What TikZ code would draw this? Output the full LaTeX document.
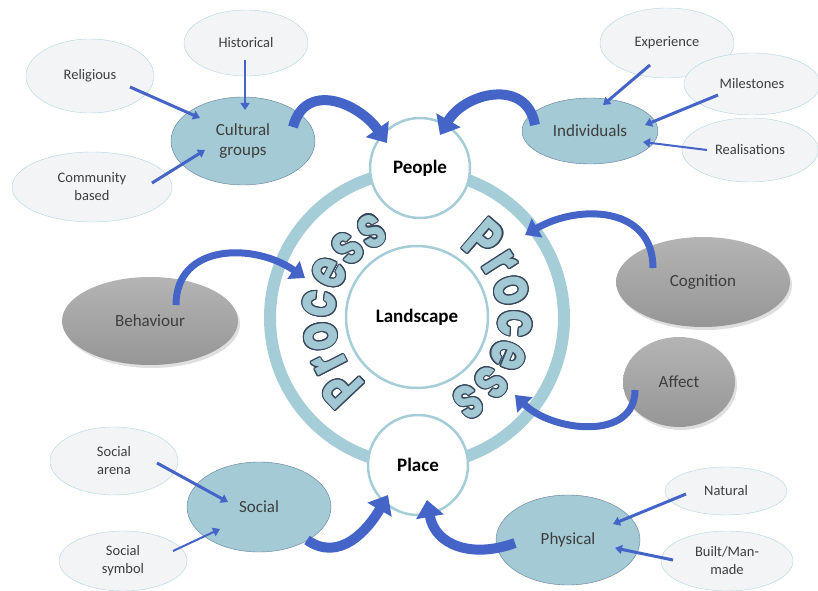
\documentclass[tikz,border=0pt]{standalone}
\usepackage{fontspec}
\setmainfont{Carlito}
\newfontfamily\procfont{Poppins}[FakeStretch=0.76]
\usepackage{tikz}
\usetikzlibrary{shapes.geometric,arrows.meta,decorations.text,shadows}
\usepackage{contour}
\contourlength{1.1pt}
\definecolor{ringblue}{RGB}{165,205,215}
\definecolor{nodeteal}{RGB}{163,202,213}
\definecolor{nodeedge}{RGB}{95,125,155}
\definecolor{palefill}{RGB}{242,244,246}
\definecolor{paleedge}{RGB}{178,212,224}
\definecolor{arrowblue}{RGB}{68,100,200}
\definecolor{procfill}{RGB}{162,200,212}
\definecolor{procline}{RGB}{55,70,90}
\definecolor{labelgray}{RGB}{62,62,62}
\definecolor{moodtop}{RGB}{180,180,180}
\definecolor{moodbot}{RGB}{150,150,150}
\newcommand{\proclet}[1]{\contour{procline}{#1}}

\begin{document}
\begin{tikzpicture}[x=1pt, y=1pt,
	main/.style={ellipse, draw=nodeedge, fill=nodeteal, inner sep=0pt, text=labelgray, font=\fontsize{17}{20}\selectfont, align=center},
	pale/.style={ellipse, draw=paleedge, fill=palefill, inner sep=0pt, text=labelgray, font=\fontsize{14.5}{18}\selectfont, align=center},
	mood/.style={ellipse, top color=moodtop, bottom color=moodbot, drop shadow={opacity=0.25, shadow xshift=2pt, shadow yshift=-3pt}, inner sep=0pt, text=labelgray, font=\fontsize{17}{20}\selectfont},
	hub/.style={circle, draw=ringblue, line width=2.5pt, fill=white, inner sep=0pt, font=\bfseries\fontsize{19}{22}\selectfont},
	feed/.style={draw=arrowblue, line width=3pt, -{Triangle[length=7pt, width=9pt]}},
	bigarrow/.style={draw=arrowblue, line width=10pt, -{Triangle[length=17pt, width=27pt]}},
	midarrow/.style={draw=arrowblue, line width=7pt, -{Triangle[length=14pt, width=21pt]}},
]
	\useasboundingbox (0,0) rectangle (818,590);

	\node[circle, draw=ringblue, line width=12pt, minimum size=294pt, inner sep=0pt] (ring) at (417,272) {};
	\node[hub, minimum size=142pt] (land) at (417,273) {Landscape};

	\path[decorate, decoration={text effects along path, text={Process}, text align=center,
		text effects/.cd, text along path, characters={text=procfill, font=\procfont\bfseries\fontsize{58}{58}\selectfont}, character command=\proclet}]
		([shift={(250:82)}]ring.center) arc[start angle=250, end angle=92, radius=82];
	\path[decorate, decoration={text effects along path, text={Process}, text align=center,
		text effects/.cd, text along path, characters={text=procfill, font=\procfont\bfseries\fontsize{59}{59}\selectfont}, character command=\proclet}]
		([shift={(78:82)}]ring.center) arc[start angle=78, end angle=-86, radius=82];

	\node[hub, minimum size=100pt] (people) at (420,422) {People};
	\node[hub, minimum size=100pt] (place) at (418,125) {Place};

	\node[pale, minimum width=124pt, minimum height=66pt] (hist) at (246,547) {Historical};
	\node[pale, minimum width=128pt, minimum height=74pt] (relig) at (90,514) {Religious};
	\node[pale, minimum width=160pt, minimum height=70pt] (commun) at (92,403) {Community\\based};
	\node[main, minimum width=144pt, minimum height=88pt] (cult) at (243,449) {Cultural\\groups};

	\node[pale, minimum width=134pt, minimum height=70pt] (exper) at (667,547) {Experience};
	\node[pale, minimum width=136pt, minimum height=62pt] (miles) at (752,506) {Milestones};
	\node[pale, minimum width=136pt, minimum height=64pt] (realis) at (750,440) {Realisations};
	\node[main, minimum width=136pt, minimum height=66pt] (indiv) at (590,459) {Individuals};

	\node[mood, minimum width=176pt, minimum height=88pt] (behav) at (150,269) {Behaviour};
	\node[mood, minimum width=174pt, minimum height=90pt] (cogn) at (703,308) {Cognition};
	\node[mood, minimum width=112pt, minimum height=90pt] (affect) at (679,208) {Affect};

	\node[pale, minimum width=128pt, minimum height=68pt] (arena) at (114,129) {Social\\arena};
	\node[pale, minimum width=128pt, minimum height=60pt] (symbol) at (123,29) {Social\\symbol};
	\node[main, minimum width=144pt, minimum height=90pt] (social) at (259,83) {Social};

	\node[pale, minimum width=122pt, minimum height=48pt] (natur) at (726,99) {Natural};
	\node[pale, minimum width=132pt, minimum height=60pt] (built) at (727,29) {Built/Man-\\made};
	\node[main, minimum width=144pt, minimum height=90pt] (phys) at (568,50) {Physical};

	\draw[feed] ([shift={(40,-11)}]relig.center) -- ([shift={(-43,23)}]cult.center);
	\draw[feed, line width=1.5pt] ([shift={(-1,-17)}]hist.center) -- ([shift={(2,31)}]cult.center);
	\draw[feed] ([shift={(60,4)}]commun.center) -- ([shift={(-38,-9)}]cult.center);
	\draw[feed] ([shift={(-17,-22)}]exper.center) -- ([shift={(13,26)}]indiv.center);
	\draw[feed] ([shift={(-34,-11)}]miles.center) -- ([shift={(55,6)}]indiv.center);
	\draw[feed, line width=2pt] ([shift={(-43,0)}]realis.center) -- ([shift={(53,-11)}]indiv.center);
	\draw[feed] ([shift={(43,-2)}]arena.center) -- ([shift={(-31,5)}]social.center);
	\draw[feed, line width=2pt] ([shift={(50,10)}]symbol.center) -- ([shift={(-39,-22)}]social.center);
	\draw[feed] ([shift={(-40,-3)}]natur.center) -- ([shift={(45,16)}]phys.center);
	\draw[feed] ([shift={(-54,1)}]built.center) -- ([shift={(47,-8)}]phys.center);

	\draw[bigarrow] ([shift={(50,14)}]cult.center) to[out=75, in=125, looseness=1.3] ([shift={(-33,25)}]people.center);
	\draw[bigarrow] ([shift={(-55,6)}]indiv.center) to[out=100, in=60, looseness=1.3] ([shift={(20,33)}]people.center);
	\draw[midarrow] ([shift={(26,16)}]behav.center) to[out=90, in=145, looseness=1.2] ([shift={(-112,40)}]ring.center);
	\draw[midarrow] ([shift={(-50,14)}]cogn.center) to[out=90, in=30, looseness=1.2] ([shift={(108,83)}]ring.center);
	\draw[midarrow] ([shift={(-44,-8)}]affect.center) to[out=-90, in=-45, looseness=1.1] ([shift={(98,-77)}]ring.center);
	\draw[bigarrow] ([shift={(48,-33)}]social.center) to[out=-35, in=-120, looseness=1.1] ([shift={(-30,-30)}]place.center);
	\draw[bigarrow] ([shift={(-53,-3)}]phys.center) to[out=200, in=-80, looseness=1.2] ([shift={(9,-35)}]place.center);
\end{tikzpicture}
\end{document}
